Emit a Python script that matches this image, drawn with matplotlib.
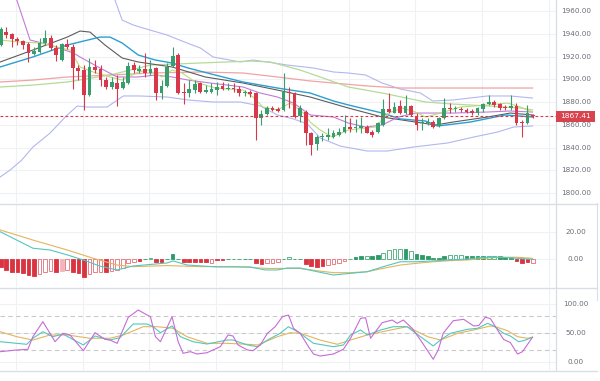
import matplotlib.pyplot as plt
import matplotlib.transforms as mtransforms
from matplotlib.lines import Line2D
from matplotlib.patches import Rectangle
import numpy as np

# candles (97 bars)
opens = [1930.1, 1941.5, 1939.8, 1935.4, 1933.6, 1931.0, 1922.2, 1924.0, 1931.9, 1936.3,
         1927.5, 1916.9, 1931.0, 1928.3, 1909.9, 1908.1, 1886.2, 1910.8, 1909.0, 1899.3,
         1893.2, 1896.7, 1892.3, 1896.7, 1912.5, 1907.3, 1909.0, 1905.5, 1909.9, 1887.9,
         1894.1, 1911.6, 1921.3, 1888.8, 1887.9, 1890.5, 1896.7, 1888.8, 1888.4, 1890.5,
         1894.1, 1891.4, 1892.3, 1891.4, 1887.9, 1888.8, 1887.9, 1865.9, 1869.5, 1874.7,
         1873.8, 1873.0, 1888.8, 1887.9, 1867.7, 1871.2, 1852.7, 1843.1, 1849.2, 1849.2,
         1849.2, 1851.0, 1853.6, 1858.0, 1857.1, 1857.1, 1858.0, 1853.6, 1853.6, 1859.8,
         1873.8, 1870.3, 1876.5, 1870.3, 1876.5, 1867.7, 1861.5, 1861.5, 1862.4, 1858.9,
         1865.9, 1874.7, 1873.8, 1873.8, 1873.0, 1872.1, 1870.3, 1873.8, 1878.2, 1880.0,
         1878.2, 1875.6, 1874.7, 1876.5, 1862.4, 1861.5, 1868.9]
highs = [1945.9, 1945.9, 1940.7, 1937.1, 1934.5, 1932.7, 1928.3, 1936.3, 1943.3, 1938.9,
         1930.1, 1931.9, 1935.4, 1931.0, 1912.5, 1912.5, 1918.7, 1916.9, 1912.5, 1902.0,
         1902.0, 1903.7, 1902.0, 1915.2, 1915.2, 1912.5, 1923.1, 1916.9, 1910.8, 1899.3,
         1914.3, 1928.3, 1923.1, 1896.7, 1899.3, 1899.3, 1897.6, 1894.9, 1896.7, 1897.6,
         1897.6, 1896.7, 1896.7, 1894.1, 1890.5, 1890.5, 1888.8, 1873.0, 1876.5, 1876.5,
         1875.6, 1905.5, 1893.2, 1888.8, 1877.4, 1873.0, 1853.6, 1851.0, 1852.7, 1857.1,
         1855.4, 1857.1, 1868.6, 1865.9, 1865.1, 1866.8, 1859.8, 1855.4, 1862.4, 1882.6,
         1887.9, 1880.0, 1881.8, 1886.2, 1877.4, 1870.3, 1865.9, 1865.9, 1864.2, 1866.8,
         1883.5, 1879.1, 1876.5, 1875.6, 1874.7, 1873.8, 1875.6, 1879.1, 1886.2, 1881.8,
         1879.1, 1877.4, 1886.2, 1879.1, 1864.2, 1877.4, 1869.5]
lows = [1929.2, 1936.3, 1928.3, 1930.1, 1926.6, 1915.2, 1921.3, 1923.1, 1930.1, 1925.7,
        1916.0, 1916.0, 1926.6, 1891.4, 1899.3, 1873.0, 1885.3, 1905.5, 1894.1, 1891.4,
        1891.4, 1876.5, 1891.4, 1896.0, 1905.5, 1905.5, 1902.0, 1903.7, 1881.8, 1882.6,
        1893.2, 1910.8, 1887.0, 1878.2, 1884.4, 1887.9, 1887.9, 1887.9, 1887.9, 1886.2,
        1890.5, 1890.5, 1888.8, 1885.3, 1885.3, 1884.4, 1846.6, 1859.8, 1868.6, 1872.1,
        1871.2, 1872.1, 1874.7, 1865.9, 1862.4, 1842.2, 1833.4, 1837.8, 1845.7, 1846.6,
        1848.4, 1850.1, 1852.7, 1853.6, 1853.6, 1852.7, 1852.7, 1849.2, 1852.7, 1858.9,
        1870.3, 1870.3, 1869.5, 1869.5, 1867.7, 1855.4, 1855.4, 1859.8, 1857.1, 1858.0,
        1865.1, 1870.3, 1871.2, 1871.2, 1870.3, 1868.6, 1868.6, 1871.2, 1877.4, 1875.6,
        1873.0, 1873.0, 1873.0, 1859.8, 1849.2, 1860.7, 1865.9]
closes = [1944.2, 1938.9, 1935.4, 1933.6, 1930.1, 1923.1, 1924.8, 1931.9, 1936.3, 1927.5,
          1921.3, 1931.0, 1928.3, 1909.9, 1907.3, 1886.2, 1910.8, 1908.1, 1899.3, 1893.2,
          1897.6, 1891.4, 1897.6, 1911.6, 1908.1, 1909.0, 1905.5, 1909.0, 1887.9, 1894.1,
          1910.8, 1920.4, 1887.9, 1887.9, 1891.4, 1895.8, 1888.8, 1890.5, 1891.4, 1893.2,
          1891.4, 1892.3, 1891.4, 1887.9, 1888.8, 1887.0, 1865.9, 1869.5, 1874.7, 1873.0,
          1872.1, 1888.8, 1887.9, 1866.8, 1874.7, 1852.7, 1842.2, 1849.2, 1850.1, 1851.0,
          1852.7, 1853.6, 1858.0, 1856.3, 1858.0, 1858.9, 1852.7, 1851.0, 1861.5, 1873.8,
          1871.2, 1875.6, 1870.3, 1876.5, 1868.6, 1859.8, 1862.4, 1862.4, 1858.0, 1865.9,
          1874.7, 1873.8, 1874.7, 1873.0, 1871.2, 1870.3, 1874.7, 1878.2, 1880.0, 1877.4,
          1874.7, 1874.7, 1876.5, 1861.5, 1861.5, 1870.3, 1867.41]
last_price = 1867.41

# overlay lines (bar index, price)
bb_up_x = [0, 12, 18, 20.6, 21.9, 23.9, 25.1, 30.0, 33.6, 36.0, 38.3, 43.2, 45.5, 48.1, 51.7,
           56.4, 60.0, 62.7, 65.8, 68.8, 72.1, 75.7, 77.9, 81.6, 87.8, 91.9, 95.9]
bb_up = [2010, 1995, 1985, 1969.7, 1952.1, 1947.7, 1945.9, 1938.9, 1931.9, 1927.5, 1919.6, 1915.2,
         1916.9, 1915.2, 1912.5, 1909.9, 1906.4, 1905.5, 1903.7, 1896.7, 1891.4, 1887.9, 1880.9,
         1881.8, 1885.3, 1885.3, 1883.5]
bb_lo_x = [-0.1, 1.7, 3.8, 5.8, 8.9, 12.0, 13.8, 15.6, 19.2, 22.1, 25.1, 30.0, 33.8, 38.3, 43.2,
           46.8, 49.9, 52.8, 55.3, 57.6, 61.2, 66.1, 69.7, 74.4, 80.6, 85.3, 89.6, 92.5, 95.9]
bb_lo = [1814.1, 1820.2, 1829.0, 1840.4, 1852.7, 1868.6, 1876.5, 1875.6, 1875.6, 1885.3, 1885.3,
         1884.4, 1881.8, 1880.0, 1880.0, 1876.5, 1868.6, 1865.1, 1860.7, 1848.4, 1841.3, 1836.9,
         1836.9, 1840.4, 1844.0, 1849.2, 1853.6, 1858.0, 1858.9]
teal_x = [-0.1, 5.8, 12.0, 17.9, 19.7, 21.9, 24.8, 27.9, 30.9, 33.8, 38.7, 43.7, 49.9, 55.8, 60.0,
          62.7, 68.8, 72.1, 76.6, 78.8, 84.7, 91.0, 95.9]
teal = [1910.8, 1919.6, 1930.1, 1937.1, 1937.1, 1931.9, 1921.3, 1916.9, 1914.3, 1909.9, 1903.7,
        1897.6, 1892.3, 1887.9, 1880.9, 1877.4, 1870.3, 1865.1, 1863.3, 1858.9, 1862.4, 1868.6, 1866.8]
grey_x = [-0.1, 5.8, 12.0, 14.3, 16.1, 18.8, 21.9, 24.8, 30.9, 36.9, 43.7, 49.9, 55.8, 62.7, 68.8,
          74.8, 78.4, 81.6, 87.8, 91.9, 95.9]
grey = [1915.2, 1925.7, 1937.1, 1942.4, 1941.5, 1930.1, 1918.7, 1915.2, 1910.8, 1902.0, 1896.7,
        1890.5, 1884.4, 1874.7, 1866.8, 1862.4, 1859.8, 1862.4, 1866.8, 1870.3, 1868.6]
purple_x = [-0.1, 2.9, 5.3, 8.9, 13.1, 14.3, 17.9, 21.0, 24.8, 27.9, 30.9, 33.8, 37.8, 43.7, 46.8,
            49.9, 52.8, 55.8, 60.0, 62.7, 65.8, 68.8, 71.7, 74.8, 81.6, 87.8, 91.9, 95.9]
purple = [2005, 1969.7, 1934.5, 1930.1, 1923.1, 1919.6, 1909.9, 1902.0, 1902.0, 1903.7, 1902.0,
          1899.3, 1896.7, 1893.2, 1887.9, 1884.4, 1879.1, 1868.6, 1866.8, 1861.5, 1858.0, 1859.8,
          1866.8, 1870.3, 1870.3, 1871.2, 1872.1, 1871.2]
pink_x = [-0.1, 5.8, 12.0, 19.7, 27.0, 36.0, 43.7, 49.9, 55.8, 60.0, 66.1, 72.1, 95.9]
pink = [1897.6, 1899.3, 1902.0, 1903.7, 1905.5, 1906.4, 1905.5, 1902.0, 1898.5, 1896.7, 1894.1,
        1892.3, 1892.3]
green_x = [-0.1, 5.8, 12.0, 19.7, 27.0, 36.0, 45.0, 48.6, 54.0, 57.6, 62.7, 68.8, 76.6, 81.6,
           87.8, 93.7, 95.9]
green = [1893.2, 1894.9, 1897.6, 1903.7, 1912.5, 1914.3, 1916.0, 1915.2, 1908.1, 1902.0, 1893.2,
         1887.9, 1880.0, 1878.2, 1876.5, 1874.7, 1873.0]
lime_x = [-0.1, 3.5, 7.1, 10.2, 12.5, 14.3, 16.7, 19.7, 21.9, 24.8, 26.6, 29.1, 30.9, 32.7, 35.1,
          38.7, 43.7, 45.5, 47.3, 49.9, 52.2, 54.6, 55.8, 57.6, 59.8, 62.7, 65.8, 67.6, 69.9, 72.4,
          74.8, 76.6, 79.3, 82.9, 87.8, 91.4, 93.7, 95.9]
lime = [1934.5, 1932.7, 1931.9, 1928.3, 1925.7, 1910.8, 1906.4, 1902.0, 1899.3, 1906.4, 1908.1,
        1902.0, 1908.1, 1905.5, 1897.6, 1892.3, 1890.5, 1884.4, 1875.6, 1873.0, 1879.1, 1870.3,
        1862.4, 1855.4, 1849.2, 1855.4, 1857.1, 1858.0, 1870.3, 1874.7, 1871.2, 1866.8, 1870.3,
        1875.6, 1877.4, 1879.1, 1875.6, 1871.2]

# MACD panel
hist = [-5.4, -7.9, -9.1, -9.1, -10.4, -11.6, -12.1, -11.1, -9.1, -8.6,
        -9.6, -8.6, -7.9, -9.1, -10.4, -12.8, -11.1, -9.1, -9.1, -9.6,
        -8.6, -8.1, -6.2, -3.0, -1.7, -1.0, 0.3, 1.2, -1.7, -1.7,
        0.3, 3.7, 0.3, -1.7, -1.7, -1.7, -1.7, -2.2, -2.5, -0.7,
        -0.7, 0.3, 0.3, 0.3, 0.3, 0.3, -3.0, -3.7, -3.0, -2.7,
        -2.2, 0.3, 1.5, 0.3, 0.4, -3.7, -4.9, -5.7, -4.9, -4.0,
        -3.2, -2.5, -1.2, 0.3, 1.7, 2.5, 2.5, 2.2, 3.0, 4.9,
        6.7, 7.2, 7.4, 7.9, 5.9, 4.2, 3.0, 2.5, 1.2, 1.0,
        2.5, 3.5, 3.5, 3.0, 2.5, 2.2, 2.2, 2.5, 2.7, 2.2,
        2.2, 2.0, 1.7, -1.0, -2.5, -2.0, -2.5]
hist_style = ("fffffffhhhfphfffhhhfhhhhhffhffffffffffhff"
              "fffffffhhhfhffffffhhhhhffhffhhhhfhffffffhhhffffhhffffffhf")
macd_x = [-0.1, 5.8, 8.9, 12.0, 14.9, 17.9, 21.0, 23.9, 30.0, 31.1, 33.6, 39.0, 45.0, 47.7, 49.9,
          51.7, 54.0, 57.1, 60.0, 63.1, 66.1, 69.0, 72.1, 75.1, 81.1, 84.2, 87.1, 90.1, 93.2, 95.9]
macd = [20.2, 8.1, 6.8, 3.2, -0.5, -5.0, -7.8, -4.9, -2.7, -1.2, -4.2, -5.6, -5.6, -7.8, -7.8,
        -6.4, -6.4, -9.1, -11.5, -10.3, -9.1, -5.4, -1.8, -1.8, -0.5, 0.2, 1.5, 1.5, 0.7, 0.0]
signal_x = [-0.1, 5.8, 12.0, 16.7, 21.0, 23.9, 30.0, 36.0, 41.9, 48.1, 54.0, 57.1, 60.0, 63.1,
            66.1, 69.0, 72.1, 75.1, 78.0, 81.1, 84.2, 87.1, 90.1, 93.2, 95.9]
signal = [21.5, 14.1, 6.8, 0.7, -4.2, -5.4, -4.6, -5.4, -5.3, -6.7, -6.7, -8.4, -9.8, -9.8, -9.1,
          -6.6, -4.2, -2.9, -1.8, -1.0, -0.5, 0.7, 1.5, 1.5, 0.7]

# oscillator panel
k_x = [-0.1, 2.9, 4.9, 5.8, 7.6, 9.8, 11.2, 12.5, 14.9, 17.0, 18.8, 19.7, 21.0, 23.0, 24.8, 26.4,
       27.0, 27.9, 28.8, 30.9, 32.0, 32.9, 34.2, 35.4, 37.2, 39.6, 41.0, 41.9, 42.8, 44.5, 45.5,
       46.8, 48.1, 49.5, 50.8, 51.9, 52.8, 54.0, 55.5, 56.4, 57.6, 60.0, 61.8, 63.1, 64.9, 65.8,
       66.7, 68.8, 70.6, 71.5, 72.6, 74.2, 75.7, 77.1, 78.0, 78.9, 79.8, 81.6, 83.5, 85.3, 86.2,
       87.4, 88.3, 89.6, 90.7, 91.9, 93.2, 94.1, 95.9]
k_line = [17.8, 20.7, 21.9, 43.6, 69.5, 35.0, 49.5, 46.6, 19.5, 50.5, 39.1, 37.9, 32.2, 77.1, 89.7,
          81.0, 78.1, 43.6, 35.0, 78.1, 35.0, 15.0, 17.8, 13.8, 16.0, 26.4, 46.6, 44.8, 29.3, 20.7,
          19.5, 29.3, 49.5, 60.9, 78.1, 81.0, 58.1, 49.5, 26.4, 13.8, 10.3, 13.8, 21.9, 40.9, 75.3,
          76.4, 40.9, 67.8, 72.4, 66.7, 72.4, 58.1, 37.9, 17.8, 4.7, 20.7, 49.5, 71.2, 73.6, 62.1,
          62.9, 77.1, 75.0, 55.2, 38.8, 33.6, 13.8, 17.8, 42.6]
d_x = [-0.1, 4.7, 5.8, 7.6, 9.4, 11.2, 14.9, 17.0, 19.7, 21.5, 23.9, 26.4, 27.5, 28.8, 30.9, 32.4,
       34.7, 37.2, 40.8, 41.9, 44.5, 46.3, 48.1, 50.4, 51.9, 54.0, 56.4, 60.0, 61.8, 63.1, 64.9,
       66.1, 68.5, 70.8, 73.3, 75.7, 78.0, 79.3, 81.1, 84.2, 86.0, 87.8, 88.9, 90.7, 91.9, 93.4,
       94.3, 95.9]
d_line = [35.0, 30.5, 40.9, 52.2, 43.6, 48.3, 29.3, 44.8, 37.9, 41.9, 65.5, 65.5, 60.9, 50.5, 62.1,
          43.6, 35.0, 31.0, 37.9, 37.9, 29.3, 26.4, 37.9, 49.5, 60.9, 49.5, 32.2, 26.4, 29.3, 46.6,
          55.2, 46.6, 55.2, 60.9, 60.9, 43.6, 27.6, 37.9, 49.5, 56.4, 58.1, 66.7, 62.1, 49.5, 44.8,
          35.0, 36.7, 42.6]
s_x = [-0.1, 2.9, 5.8, 8.9, 12.0, 16.1, 19.7, 22.1, 25.7, 28.2, 31.1, 33.6, 37.2, 40.8, 44.5, 46.3,
       49.9, 52.2, 54.0, 57.6, 60.7, 63.1, 66.1, 69.7, 73.3, 77.0, 79.3, 82.4, 85.3, 88.3, 89.2,
       91.4, 93.2, 95.0, 95.9]
s_line = [52.2, 43.6, 37.9, 46.6, 46.6, 40.9, 40.9, 46.6, 60.9, 60.9, 58.1, 43.6, 32.2, 32.2, 30.5,
          29.3, 43.6, 50.5, 49.5, 37.9, 30.5, 37.9, 46.6, 54.0, 60.9, 43.6, 37.9, 49.5, 55.2, 62.1,
          60.9, 54.0, 43.6, 40.9, 42.6]

price_ticks = [1800, 1820, 1840, 1860, 1880, 1900, 1920, 1940, 1960]
macd_ticks = [0, 20]
osc_ticks = [0, 50, 100]
osc_levels = [20, 50, 80]
vgrid = [2.8, 14.8, 26.8, 38.8, 50.8, 62.8, 74.8, 86.8, 98.8]

UP = '#3a9d6d'
DOWN = '#d8394a'
LINE_C = '#d9dde4'
GRID_C = '#eff1f4'
TXT_C = '#6b6e78'

fig = plt.figure(figsize=(6, 3.81), dpi=100)
H = 381.0
W = 555.5 / 600
ax1 = fig.add_axes([0, 1 - 203 / H, W, 203 / H])
ax2 = fig.add_axes([0, 1 - 287 / H, W, 83 / H])
ax3 = fig.add_axes([0, 1 - 370 / H, W, 82 / H])

for ax in (ax1, ax2, ax3):
    ax.set_xlim(-0.13, 100.05)
    for s in ax.spines.values():
        s.set_visible(False)
    ax.spines['right'].set_visible(True)
    ax.spines['right'].set_color(LINE_C)
    ax.spines['right'].set_linewidth(0.9)
    ax.tick_params(length=0, labelleft=False, labelbottom=False)
    ax.set_xticks(vgrid)
    ax.grid(True, color=GRID_C, lw=0.8)
    ax.set_axisbelow(True)

ax1.set_ylim(1791.2, 1969.7)
ax1.set_yticks(price_ticks)
ax2.set_ylim(-20.3, 40.5)
ax2.set_yticks(macd_ticks)
ax3.set_ylim(-13.8, 127.6)
ax3.set_yticks(osc_ticks)


def right_labels(ax, ticks):
    tr = mtransforms.blended_transform_factory(fig.transFigure, ax.transData)
    for t in ticks:
        ax.text(576 / 600, t, '%.2f' % t, transform=tr, ha='center', va='center',
                fontsize=5.2, color=TXT_C, clip_on=False)


right_labels(ax1, price_ticks)
right_labels(ax2, macd_ticks)
right_labels(ax3, osc_ticks)

# main panel overlays
ax1.plot(bb_up_x, bb_up, color='#b2b7ef', lw=0.8, zorder=2)
ax1.plot(bb_lo_x, bb_lo, color='#b2b7ef', lw=0.8, zorder=2)
ax1.plot(pink_x, pink, color='#f0a4a4', lw=0.9, zorder=2)
ax1.plot(green_x, green, color='#b4db98', lw=0.9, zorder=2)
ax1.plot(grey_x, grey, color='#5c5c5c', lw=0.8, zorder=2)
ax1.plot(teal_x, teal, color='#2a9fd0', lw=1.0, zorder=2)
ax1.plot(purple_x, purple, color='#c37ad8', lw=0.8, zorder=2)
ax1.plot(lime_x, lime, color='#b9dc7c', lw=0.8, zorder=2)

xs = np.arange(len(opens))
o = np.array(opens)
c = np.array(closes)
up = c >= o
cols = [UP if u else DOWN for u in up]
body_lo = np.minimum(o, c)
body_h = np.maximum(np.abs(c - o), 0.9)
ax1.vlines(xs, lows, highs, colors=cols, lw=0.8, zorder=3)
ax1.bar(xs, body_h, bottom=body_lo, width=0.68, color=cols, lw=0, zorder=4)

ax1.axhline(last_price, color=DOWN, lw=0.8, ls=(0, (2.5, 2)), zorder=5)
trp = mtransforms.blended_transform_factory(fig.transFigure, ax1.transData)
fig.patches.append(Rectangle((556 / 600, last_price - 4.9), 39 / 600, 9.8, transform=trp,
                             facecolor='#d9434d', edgecolor='none', zorder=5))
fig.text(575.5 / 600, last_price, '%.2f' % last_price, transform=trp, ha='center', va='center',
         fontsize=5.4, color='white', zorder=10)

# MACD histogram + lines
fcs, ecs = [], []
for v, st in zip(hist, hist_style):
    if v >= 0:
        base, light = '#2f9a68', '#45aa7a'
    else:
        base, light = '#d9343f', '#e36d76'
    if st == 'h':
        fcs.append('white')
        ecs.append(light)
    elif st == 'p':
        fcs.append('#f3b5bb')
        ecs.append('#f3b5bb')
    else:
        fcs.append(base)
        ecs.append(base)
hv = [v if abs(v) > 0.4 else (0.4 if v > 0 else -0.4) for v in hist]
ax2.bar(xs, hv, width=0.66, color=fcs, edgecolor=ecs, lw=0.6, zorder=2)
ax2.plot(signal_x, signal, color='#e4b45e', lw=0.8, zorder=3)
ax2.plot(macd_x, macd, color='#55c6be', lw=0.8, zorder=3)

# oscillator
for lv in osc_levels:
    ax3.axhline(lv, color='#c9c9c9', lw=0.8, ls=(0, (4, 3)), zorder=1)
ax3.plot(s_x, s_line, color='#e4b45e', lw=0.8, zorder=3)
ax3.plot(d_x, d_line, color='#55c6be', lw=0.8, zorder=3)
ax3.plot(k_x, k_line, color='#c66bd6', lw=0.8, zorder=3)

# panel separators
for yp in (203.5, 287.5, 370.5):
    fig.add_artist(Line2D([0, 597 / 600], [1 - yp / H, 1 - yp / H], color=LINE_C, lw=1.0,
                          transform=fig.transFigure))
fig.add_artist(Line2D([596.5 / 600, 596.5 / 600], [1 - 300 / H, 1 - 203 / H], color=LINE_C,
                      lw=0.8, transform=fig.transFigure))

fig.savefig('out.png', dpi=100, facecolor='white')
